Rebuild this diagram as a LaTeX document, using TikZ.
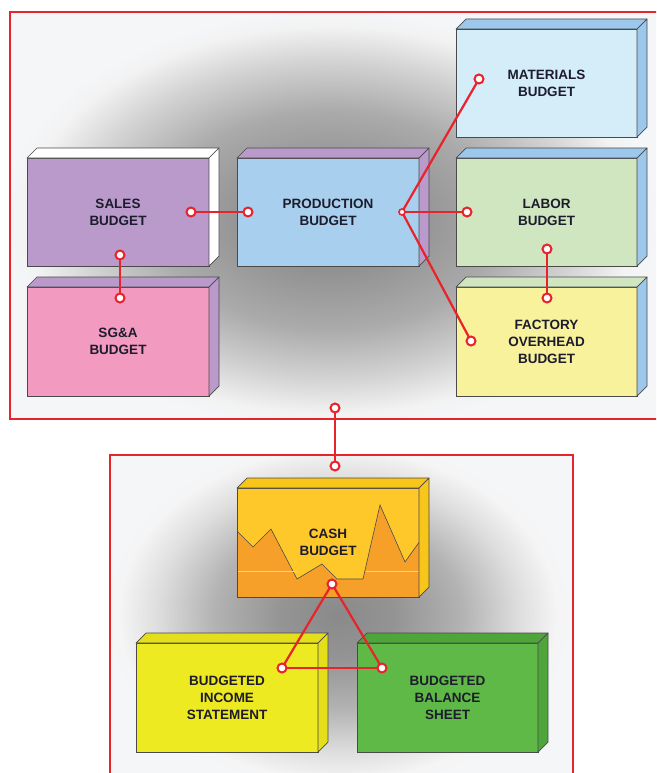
\documentclass[tikz,border=0pt]{standalone}
\usepackage{fontspec}
\setmainfont{Liberation Sans}
\usetikzlibrary{calc}
\definecolor{frred}{HTML}{E8232B}
\definecolor{txt}{HTML}{1C1C2C}
\definecolor{edge}{HTML}{4A4A4A}
\definecolor{purp}{HTML}{B99ACB}
\definecolor{pink}{HTML}{F39AC1}
\definecolor{prodblue}{HTML}{A8CFEE}
\definecolor{blueside}{HTML}{9DC8EC}
\definecolor{matfront}{HTML}{D5ECF9}
\definecolor{labfront}{HTML}{CFE6C0}
\definecolor{facfront}{HTML}{F8F29C}
\definecolor{cashyel}{HTML}{FFC82A}
\definecolor{cashtop}{HTML}{F8C51A}
\definecolor{cashor}{HTML}{F6A02A}
\definecolor{incfront}{HTML}{EEEA22}
\definecolor{incside}{HTML}{E4DF1A}
\definecolor{balfront}{HTML}{5EB947}
\definecolor{balside}{HTML}{4EA63A}
\definecolor{bgwhite}{HTML}{F4F6F8}
\pgfdeclareradialshading{topsh}{\pgfpoint{0bp}{0bp}}{color(0bp)=(black!45); color(6bp)=(black!43); color(13bp)=(black!33); color(19bp)=(black!17); color(23bp)=(black!5); color(25bp)=(bgwhite); color(50bp)=(bgwhite)}
\pgfdeclareradialshading{botsh}{\pgfpoint{0bp}{0bp}}{color(0bp)=(black!46); color(6bp)=(black!42); color(13bp)=(black!30); color(19bp)=(black!13); color(23bp)=(black!4); color(25bp)=(bgwhite); color(50bp)=(bgwhite)}
\tikzset{
  bx/.style={draw=edge, line width=0.7pt, rectangle, inner sep=0pt, outer sep=0pt,
     text=txt, align=center, font=\bfseries\fontsize{13.5}{17}\selectfont},
  bxline/.style={draw=edge, line width=0.7pt, line join=round},
  frame/.style={draw=frred, line width=1.8pt},
  conn/.style={draw=frred, line width=2.2pt},
  pinc/.style={circle, draw=frred, fill=white, line width=2pt, minimum size=9pt, inner sep=0pt, outer sep=0pt},
  hubc/.style={circle, draw=frred, fill=white, line width=1.6pt, minimum size=6pt, inner sep=0pt, outer sep=0pt}
}
\newcommand{\budgetbx}[9]{%
  \node[bx, fill=#6, minimum width=#4, minimum height=#5] (#1) at (#2,#3) {#9};
  \filldraw[bxline, fill=#7] (#1.north west) -- ++(10,-10) -- ($(#1.north east)+(10,-10)$) -- (#1.north east) -- cycle;
  \filldraw[bxline, fill=#8] (#1.north east) -- ++(10,-10) -- ($(#1.south east)+(10,-10)$) -- (#1.south east) -- cycle;
}
\begin{document}
\begin{tikzpicture}[x=1pt,y=-1pt]
\useasboundingbox (0,0) rectangle (656,773);
\clip (0,0) rectangle (656,773);
\fill[white] (0,0) rectangle (656,773);
% backgrounds
\begin{scope}
  \clip (10,12) rectangle (670,419);
  \shade[shading=topsh] (0,10) rectangle (660,430);
\end{scope}
\begin{scope}
  \clip (110,455) rectangle (573,790);
  \shade[shading=botsh] (100,435) rectangle (576,795);
\end{scope}
\draw[frame] (10,12) rectangle (680,419);
\draw[frame] (110,455) rectangle (573,800);
% top boxes
\budgetbx{sales}{118}{212}{182pt}{108pt}{purp}{white}{white}{SALES\\BUDGET}
\budgetbx{sga}{118}{341.5}{182pt}{109pt}{pink}{purp}{purp}{SG\&A\\BUDGET}
\budgetbx{prod}{328}{212}{182pt}{108pt}{prodblue}{purp}{purp}{PRODUCTION\\BUDGET}
\budgetbx{mat}{546.5}{83}{181pt}{108pt}{matfront}{blueside}{blueside}{MATERIALS\\BUDGET}
\budgetbx{lab}{546.5}{212}{181pt}{108pt}{labfront}{blueside}{blueside}{LABOR\\BUDGET}
\budgetbx{fac}{546.5}{341.5}{181pt}{109pt}{facfront}{labfront}{blueside}{FACTORY\\OVERHEAD\\BUDGET}
% cash budget
\fill[cashyel] (237,488) rectangle (419,597);
\begin{scope}
  \clip (237,488) rectangle (419,597);
  \filldraw[fill=cashor, draw=edge, line width=0.6pt] (236,530) -- (253,547) -- (271,529) -- (297,579) -- (322,564) -- (337,579) -- (363,579) -- (380,505) -- (405,562) -- (420,541) -- (420,600) -- (236,600) -- cycle;
  \draw[cashyel!70!white, line width=0.8pt] (237,571) -- (297,571);
  \draw[cashyel!70!white, line width=0.8pt] (366,571) -- (419,571);
\end{scope}
\node[bx, minimum width=182pt, minimum height=109pt] (cash) at (328,542.5) {CASH\\BUDGET};
\filldraw[bxline, fill=cashtop] (cash.north west) -- ++(10,-10) -- ($(cash.north east)+(10,-10)$) -- (cash.north east) -- cycle;
\filldraw[bxline, fill=cashtop] (cash.north east) -- ++(10,-10) -- ($(cash.south east)+(10,-10)$) -- (cash.south east) -- cycle;
\budgetbx{inc}{227}{697.5}{182pt}{109pt}{incfront}{incside}{incside}{BUDGETED\\INCOME\\STATEMENT}
\budgetbx{bal}{447.5}{697.5}{181pt}{109pt}{balfront}{balside}{balside}{BUDGETED\\BALANCE\\SHEET}
% connector points
\node[pinc] (salesR) at (191,212) {};
\node[pinc] (prodL) at (248,212) {};
\node[pinc] (salesB) at (120,255) {};
\node[pinc] (sgaT) at (120,298) {};
\node[hubc] (hub) at (402,212) {};
\node[pinc] (matP) at (479,79) {};
\node[pinc] (labP) at (467,212) {};
\node[pinc] (facP) at (471,341) {};
\node[pinc] (labB) at (547,249) {};
\node[pinc] (facT) at (547,298) {};
\node[pinc] (frT) at (335,408) {};
\node[pinc] (frB) at (335,466) {};
\node[pinc] (cashP) at (332,584) {};
\node[pinc] (incP) at (282,668) {};
\node[pinc] (balP) at (382,668) {};
% connectors
\draw[conn] (salesR) -- (prodL);
\draw[conn] (salesB) -- (sgaT);
\draw[conn] (hub) -- (matP);
\draw[conn] (hub) -- (labP);
\draw[conn] (hub) -- (facP);
\draw[conn] (labB) -- (facT);
\draw[conn] (frT) -- (frB);
\draw[conn] (cashP) -- (incP);
\draw[conn] (cashP) -- (balP);
\draw[conn] (incP) -- (balP);
\end{tikzpicture}
\end{document}
